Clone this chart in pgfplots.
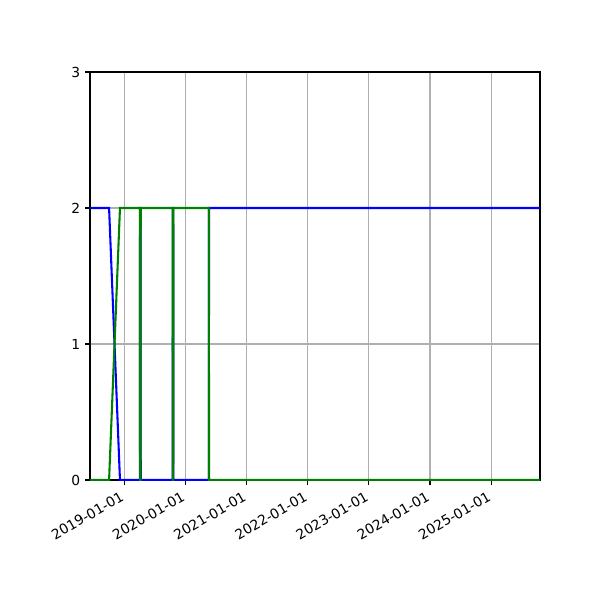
\documentclass[border=0pt]{standalone}
\usepackage{fontspec}
\setmainfont{DejaVu Sans}
\usepackage{pgfplots}
\pgfplotsset{compat=1.18}
\definecolor{mplblue}{RGB}{0,0,255}
\definecolor{mplgreen}{RGB}{0,128,0}
\definecolor{mplgrid}{RGB}{176,176,176}
% x = days since 2019-01-01
\begin{document}
\begin{tikzpicture}
\begin{axis}[
  scale only axis, width=4.5in, height=4.08in,
  xmin=-205, xmax=2483, ymin=0, ymax=3,
  ytick={0,1,2,3},
  xtick={0,365,731,1096,1461,1826,2192},
  xticklabels={2019-01-01,2020-01-01,2021-01-01,2022-01-01,2023-01-01,2024-01-01,2025-01-01},
  xticklabel style={rotate=30, anchor=north east, inner sep=2pt, xshift=-3pt},
  tick label style={font=\fontsize{10}{12}\selectfont},
  /pgf/number format/assume math mode=true,
  tick pos=left, tick align=outside, major tick length=3.5pt,
  every tick/.style={black, line width=0.8pt},
  axis line style={line width=0.8pt},
  grid=major, major grid style={mplgrid, line width=0.8pt},
]
\addplot[mplblue, line width=1.5pt] coordinates {
(-205,2) (-91,2) (-26,0) (93,0) (94,2) (97,2) (98,0) (289,0) (290,2) (292,2) (293,0) (505,0) (506,2) (2483,2)
};
\addplot[mplgreen, line width=1.5pt] coordinates {
(-205,0) (-91,0) (-26,2) (93,2) (94,0) (97,0) (98,2) (289,2) (290,0) (292,0) (293,2) (505,2) (506,0) (2483,0)
};
\end{axis}
\path ([xshift=-0.9in,yshift=-1.2in]current axis.south west) rectangle ([xshift=0.6in,yshift=0.72in]current axis.north east);
\end{tikzpicture}
\end{document}
